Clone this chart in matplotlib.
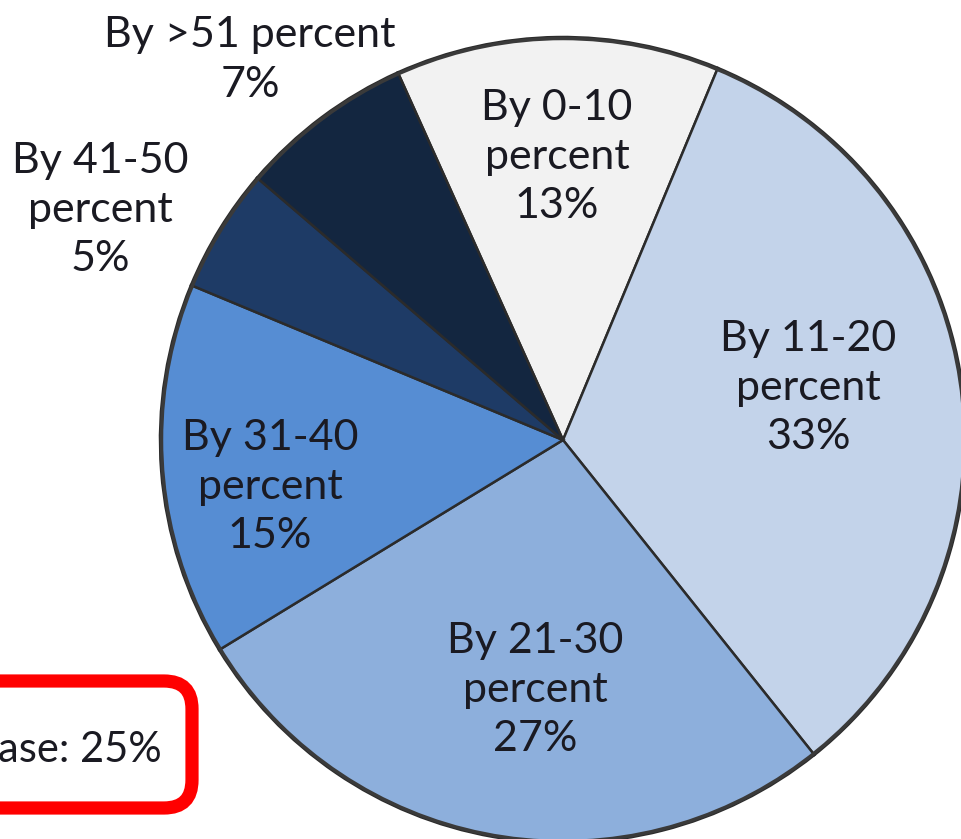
import matplotlib
matplotlib.use("Agg")
import matplotlib.pyplot as plt
from matplotlib.patches import FancyBboxPatch, Circle

# Данные диаграммы
categories = ["By 0-10\npercent", "By 11-20\npercent", "By 21-30\npercent",
              "By 31-40\npercent", "By 41-50\npercent", "By >51 percent"]
shares = [13, 33, 27, 15, 5, 7]
colors = ["#F2F2F2", "#C3D3EA", "#8DAFDC", "#568DD3", "#1E3B66", "#132640"]
box_text = "Average increase: 25%"

W, H = 961, 839
fig = plt.figure(figsize=(W / 100, H / 100), dpi=100)
ax = fig.add_axes([0, 0, 1, 1])

# Центр и радиус в пикселях картинки
cx, cy, r = 563, H - 440, 403

wedges, _ = ax.pie(shares, colors=colors, startangle=114.2, counterclock=False,
                   center=(cx, cy), radius=r, frame=True,
                   wedgeprops=dict(edgecolor="#2B2B2B", linewidth=1.8))
# Тёмный ободок по краю круга
ax.add_patch(Circle((cx, cy), r - 1.5, fill=False, edgecolor="#3A3A3A", linewidth=2.5))

ax.set_xlim(0, W)
ax.set_ylim(0, H)
ax.set_aspect("equal")
ax.axis("off")

# Подписи секторов
label_pos = [(557, 157), (808, 388), (535, 690), (270, 487), (100, 210), (250, 60)]
font = dict(family=["Lato", "DejaVu Sans"], fontsize=31, color="#1A1A22",
            ha="center", va="center", linespacing=1.37)
for cat, val, (x, y) in zip(categories, shares, label_pos):
    ax.text(x, H - y, f"{cat}\n{val}%", **font)

# Красная рамка
box = FancyBboxPatch((-60, H - 808), 252, 127,
                     boxstyle="round,pad=0,rounding_size=28",
                     facecolor="white", edgecolor="#FF0000", linewidth=9.5)
ax.add_patch(box)
ax.text(162, H - 750, box_text, ha="right", va="center",
        family=["Lato", "DejaVu Sans"], fontsize=30, color="#1A1A22")

fig.savefig("out.png", dpi=100)
